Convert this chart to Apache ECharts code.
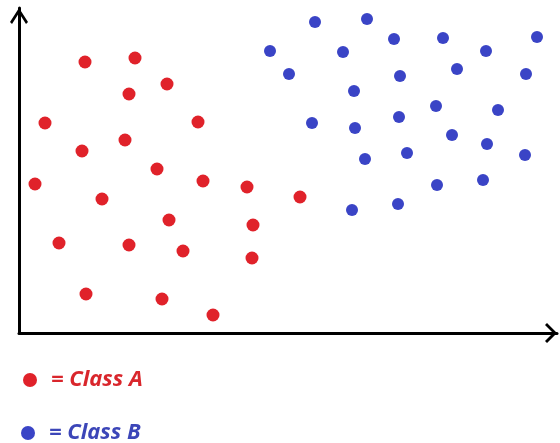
<!DOCTYPE html>
<html>
<head>
<meta charset="utf-8">
<script src="https://cdn.jsdelivr.net/npm/echarts@6/dist/echarts.min.js"></script>
<style>
  html, body { margin: 0; padding: 0; background: #fff; }
  #main { width: 560px; height: 443px; }
</style>
</head>
<body>
<div id="main"></div>
<script>
// class A points [x, y]
var classA = [
  [66, 271], [116, 275], [148, 249], [110, 239], [26, 210], [179, 211],
  [106, 193], [63, 182], [138, 164], [16, 149], [184, 152], [228, 146],
  [83, 134], [150, 113], [234, 108], [40, 90], [110, 88], [164, 82],
  [233, 75], [67, 39], [143, 34], [194, 18], [281, 136]
];
// class B points [x, y]
var classB = [
  [296, 311], [348, 314], [375, 294], [424, 295], [518, 296], [251, 282],
  [324, 281], [467, 282], [270, 259], [381, 257], [438, 264], [507, 259],
  [335, 242], [417, 227], [479, 223], [293, 210], [336, 205], [380, 216],
  [433, 198], [468, 189], [346, 174], [388, 180], [506, 178], [333, 123],
  [379, 129], [418, 148], [464, 153]
];
var seriesNames = ['Class A', 'Class B'];
var colors = ['#e0222a', '#3a44c6'];
var textColors = ['#d9262c', '#3c46b8'];

var chart = echarts.init(document.getElementById('main'));

// open chevron arrows, drawn pointing up (echarts rotates them)
var arrowY = 'path://M0,14 L9,0 L18,14 L16,16 L9,5 L2,16 Z';
var arrowX = 'path://M0,10 L10,0 L20,10 L18,12 L10,4 L2,12 Z';

// one legend block per class, stacked under the plot
var legendTops = [369, 422];
var legendLefts = [23, 21];
var legends = seriesNames.map(function(n, i) {
  return {
    left: legendLefts[i],
    top: legendTops[i],
    padding: 0,
    itemWidth: 14,
    itemHeight: 14,
    icon: 'circle',
    formatter: '= {name}',
    data: [n],
    textStyle: {
      color: textColors[i],
      fontFamily: 'Open Sans',
      fontSize: 22,
      fontWeight: 'bold',
      fontStyle: 'italic',
      padding: [0, 0, 0, 9]
    }
  };
});

var option = {
  animation: false,
  backgroundColor: '#fff',
  color: colors,
  grid: {
    left: 19,
    right: 3,
    top: 8,
    bottom: 110
  },
  legend: legends,
  xAxis: {
    type: 'value',
    min: 0,
    max: 538,
    splitLine: { show: false },
    axisLabel: { show: false },
    axisTick: { show: false },
    axisLine: {
      onZero: false,
      symbol: ['none', arrowX],
      symbolSize: [20, 12],
      symbolOffset: [0, -6],
      lineStyle: { color: '#000', width: 3 }
    }
  },
  yAxis: {
    type: 'value',
    min: 0,
    max: 325,
    splitLine: { show: false },
    axisLabel: { show: false },
    axisTick: { show: false },
    axisLine: {
      show: true,
      onZero: false,
      symbol: ['none', arrowY],
      symbolSize: [18, 16],
      symbolOffset: [0, -8],
      lineStyle: { color: '#000', width: 3 }
    }
  },
  series: [{
    name: seriesNames[0],
    type: 'scatter',
    symbol: 'circle',
    symbolSize: 13,
    itemStyle: { opacity: 1 },
    data: classA
  }, {
    name: seriesNames[1],
    type: 'scatter',
    symbol: 'circle',
    symbolSize: 12,
    itemStyle: { opacity: 1 },
    data: classB
  }]
};

chart.setOption(option);
</script>
</body>
</html>
